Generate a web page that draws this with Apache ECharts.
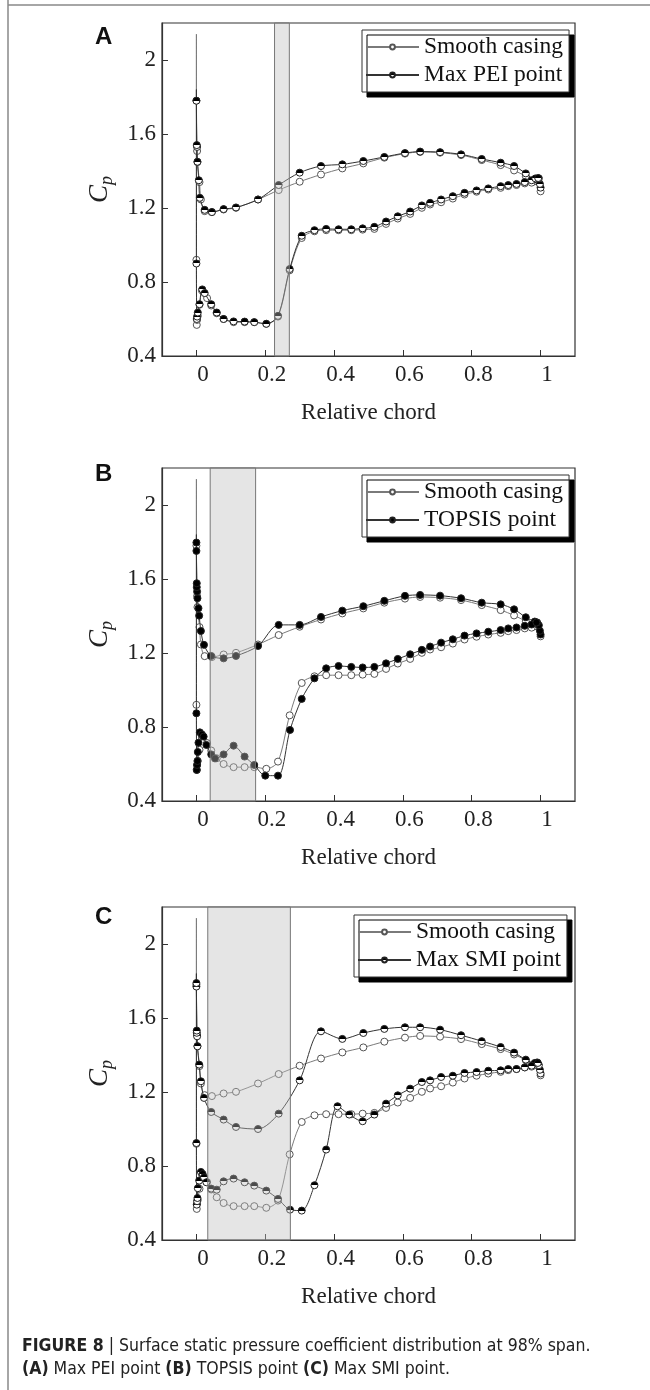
<!DOCTYPE html>
<html>
<head>
<meta charset="utf-8">
<script src="https://cdn.jsdelivr.net/npm/echarts@6/dist/echarts.min.js"></script>
<style>
  html, body { margin: 0; padding: 0; background: #fff; }
  #chart { width: 650px; height: 1390px; }
</style>
</head>
<body>
<div id="chart"></div>
<script>
// each curve runs: pressure side TE -> LE -> stagnation tip -> suction side -> TE
var smoothCasing = [
  [1.0, 1.29], [0.983, 1.345], [0.957, 1.372], [0.923, 1.403], [0.884, 1.432], [0.829, 1.459],
  [0.769, 1.486], [0.708, 1.499], [0.650, 1.503], [0.606, 1.494], [0.546, 1.472], [0.485, 1.441],
  [0.424, 1.414], [0.362, 1.381], [0.300, 1.342], [0.239, 1.297], [0.179, 1.246], [0.115, 1.201],
  [0.079, 1.192], [0.045, 1.178], [0.024, 1.183], [0.013, 1.246], [0.009, 1.34], [0.003, 1.448],
  [0.002, 1.508], [0.0, 1.78], [0.0, 2.14],
  [0.0, 0.92], [0.001, 0.568], [0.002, 0.595], [0.004, 0.617], [0.009, 0.677], [0.016, 0.754],
  [0.031, 0.713], [0.043, 0.673], [0.059, 0.631], [0.079, 0.60], [0.108, 0.583], [0.140, 0.583],
  [0.168, 0.583], [0.203, 0.574], [0.237, 0.613], [0.271, 0.863], [0.306, 1.038], [0.343, 1.074],
  [0.377, 1.08], [0.413, 1.08], [0.45, 1.08], [0.483, 1.083], [0.517, 1.087], [0.551, 1.114],
  [0.585, 1.143], [0.621, 1.168], [0.655, 1.201], [0.679, 1.219], [0.711, 1.231], [0.745, 1.251],
  [0.779, 1.273], [0.814, 1.288], [0.848, 1.30], [0.884, 1.309], [0.906, 1.318], [0.93, 1.324],
  [0.954, 1.333], [0.974, 1.337], [0.991, 1.354]
];
var maxPEI = [
  [1.0, 1.31], [0.998, 1.33], [0.995, 1.36], [0.983, 1.355], [0.957, 1.387], [0.923, 1.427],
  [0.884, 1.445], [0.829, 1.465], [0.769, 1.49], [0.708, 1.502], [0.650, 1.505], [0.606, 1.497],
  [0.546, 1.476], [0.485, 1.454], [0.424, 1.436], [0.362, 1.427], [0.300, 1.391], [0.239, 1.324],
  [0.179, 1.246], [0.115, 1.203], [0.079, 1.194], [0.045, 1.178], [0.024, 1.19], [0.010, 1.255],
  [0.007, 1.35], [0.003, 1.45], [0.002, 1.53], [0.001, 1.54], [0.0, 1.78], [0.0, 1.84],
  [0.0, 0.90], [0.001, 0.60], [0.002, 0.613], [0.004, 0.635], [0.009, 0.68], [0.017, 0.76],
  [0.024, 0.74], [0.043, 0.68], [0.059, 0.635], [0.079, 0.60], [0.108, 0.587], [0.140, 0.586],
  [0.168, 0.583], [0.203, 0.574], [0.237, 0.617], [0.271, 0.87], [0.306, 1.05], [0.343, 1.08],
  [0.377, 1.087], [0.413, 1.085], [0.45, 1.085], [0.483, 1.09], [0.517, 1.098], [0.551, 1.127],
  [0.585, 1.155], [0.621, 1.181], [0.655, 1.214], [0.679, 1.228], [0.711, 1.246], [0.745, 1.264],
  [0.779, 1.282], [0.814, 1.295], [0.848, 1.306], [0.884, 1.318], [0.906, 1.324], [0.93, 1.33],
  [0.954, 1.34], [0.974, 1.35], [0.985, 1.36], [0.993, 1.362]
];
var topsis = [
  [1.0, 1.30], [0.998, 1.32], [0.995, 1.35], [0.99, 1.365], [0.983, 1.37], [0.957, 1.393],
  [0.923, 1.436], [0.884, 1.463], [0.829, 1.472], [0.769, 1.496], [0.708, 1.51], [0.650, 1.514],
  [0.606, 1.509], [0.546, 1.482], [0.485, 1.453], [0.424, 1.429], [0.362, 1.395], [0.300, 1.352],
  [0.239, 1.352], [0.179, 1.238], [0.115, 1.184], [0.079, 1.171], [0.043, 1.184], [0.022, 1.244],
  [0.013, 1.319], [0.008, 1.402], [0.006, 1.442], [0.003, 1.496], [0.002, 1.532], [0.001, 1.556],
  [0.001, 1.577], [0.0, 1.752], [0.0, 1.797], [0.0, 1.84],
  [0.0, 0.874], [0.001, 0.568], [0.002, 0.595], [0.003, 0.616], [0.004, 0.665], [0.006, 0.715],
  [0.01, 0.771], [0.016, 0.76], [0.021, 0.748], [0.029, 0.703], [0.043, 0.652], [0.054, 0.630],
  [0.079, 0.652], [0.108, 0.699], [0.14, 0.64], [0.168, 0.595], [0.2, 0.537], [0.237, 0.537],
  [0.272, 0.784], [0.306, 0.952], [0.343, 1.063], [0.377, 1.117], [0.413, 1.13], [0.45, 1.125],
  [0.483, 1.122], [0.517, 1.125], [0.551, 1.144], [0.585, 1.168], [0.621, 1.193], [0.655, 1.217],
  [0.679, 1.235], [0.711, 1.256], [0.745, 1.274], [0.779, 1.294], [0.814, 1.306], [0.848, 1.315],
  [0.884, 1.324], [0.906, 1.333], [0.93, 1.338], [0.954, 1.347], [0.974, 1.354], [0.988, 1.365]
];
var maxSMI = [
  [1.0, 1.30], [0.998, 1.32], [0.995, 1.345], [0.99, 1.36], [0.983, 1.357], [0.957, 1.375],
  [0.923, 1.413], [0.884, 1.443], [0.829, 1.475], [0.769, 1.507], [0.708, 1.537], [0.650, 1.55],
  [0.606, 1.55], [0.546, 1.541], [0.485, 1.519], [0.424, 1.487], [0.362, 1.528], [0.300, 1.263],
  [0.239, 1.083], [0.179, 1.0], [0.115, 1.011], [0.079, 1.051], [0.043, 1.092], [0.022, 1.168],
  [0.013, 1.258], [0.008, 1.348], [0.003, 1.447], [0.002, 1.501], [0.001, 1.52], [0.001, 1.532],
  [0.0, 1.77], [0.0, 1.789], [0.0, 1.84],
  [0.0, 0.924], [0.001, 0.591], [0.002, 0.61], [0.003, 0.627], [0.004, 0.68], [0.008, 0.721],
  [0.013, 0.768], [0.018, 0.757], [0.022, 0.739], [0.029, 0.712], [0.043, 0.678], [0.059, 0.672],
  [0.079, 0.717], [0.108, 0.732], [0.14, 0.712], [0.168, 0.694], [0.203, 0.667], [0.237, 0.622],
  [0.272, 0.564], [0.306, 0.559], [0.343, 0.696], [0.377, 0.889], [0.41, 1.123], [0.444, 1.078],
  [0.483, 1.042], [0.517, 1.078], [0.551, 1.137], [0.585, 1.182], [0.621, 1.218], [0.655, 1.254],
  [0.679, 1.263], [0.711, 1.281], [0.745, 1.288], [0.779, 1.303], [0.814, 1.308], [0.848, 1.315],
  [0.884, 1.317], [0.906, 1.324], [0.93, 1.324], [0.954, 1.333], [0.974, 1.342], [0.992, 1.357]
];

var xTicks = [0, 0.2, 0.4, 0.6, 0.8, 1];
var yTicks = [0.4, 0.8, 1.2, 1.6, 2];
var panelLetters = ['A', 'B', 'C'];
var caseNames = ['Max PEI point', 'TOPSIS point', 'Max SMI point'];
var caseData = [maxPEI, topsis, maxSMI];
// shaded chord ranges (grooved region)
var bands = [[0.227, 0.27], [0.04, 0.172], [0.033, 0.273]];

var gridTops = [23, 468, 907];
var legendPos = [[362, 30], [362, 475], [354, 915]];
var letterTops = [25, 462, 905];

var serif = '"Liberation Serif", "Times New Roman", serif';

var halfFill = {
  type: 'linear', x: 0, y: 0, x2: 0, y2: 1,
  colorStops: [
    {offset: 0, color: '#000'}, {offset: 0.5, color: '#000'},
    {offset: 0.5, color: '#fff'}, {offset: 1, color: '#fff'}
  ]
};

// stagnation tip drawn as bare line
function toData(arr) {
  return arr.map(function (p) {
    return p[1] > 1.82 ? {value: p, symbol: 'none'} : p;
  });
}

var grids = [], xAxes = [], yAxes = [], series = [], legends = [], graphics = [];

for (var i = 0; i < 3; i++) {
  grids.push({
    left: 162, width: 413, top: gridTops[i], height: 333,
    show: true, borderColor: '#333', borderWidth: 1.2
  });
  xAxes.push({
    type: 'value', gridIndex: i, min: -0.1, max: 1.1,
    axisLine: {onZero: false, lineStyle: {color: '#333', width: 1.2}},
    axisTick: {inside: true, length: 6, customValues: xTicks, lineStyle: {color: '#333'}},
    axisLabel: {
      customValues: xTicks, margin: 7, padding: [0, 0, 0, 13],
      fontFamily: serif, fontSize: 23, color: '#222',
      formatter: function (v) { return String(v); }
    },
    splitLine: {show: false},
    name: 'Relative chord', nameLocation: 'middle', nameGap: 45,
    nameTextStyle: {fontFamily: serif, fontSize: 23, color: '#222'}
  });
  yAxes.push({
    type: 'value', gridIndex: i, min: 0.4, max: 2.2,
    axisLine: {onZero: false, lineStyle: {color: '#333', width: 1.2}},
    axisTick: {inside: true, length: 6, customValues: yTicks, lineStyle: {color: '#333'}},
    axisLabel: {
      customValues: yTicks, margin: 6,
      fontFamily: serif, fontSize: 23, color: '#222',
      formatter: function (v) { return String(+v.toFixed(1)); }
    },
    splitLine: {show: false},
    name: '{c|C}{p|p}', nameLocation: 'middle', nameGap: 46, nameRotate: 90,
    nameTextStyle: {
      rich: {
        c: {fontFamily: serif, fontStyle: 'italic', fontSize: 27, color: '#222'},
        p: {fontFamily: serif, fontStyle: 'italic', fontSize: 18, color: '#222', padding: [14, 0, 0, 0]}
      }
    }
  });

  series.push({
    name: 'Smooth casing', type: 'line', xAxisIndex: i, yAxisIndex: i,
    data: toData(smoothCasing), smooth: 0.3,
    symbol: 'circle', symbolSize: 7,
    lineStyle: {color: '#7a7a7a', width: 1},
    itemStyle: {color: '#fff', borderColor: '#555', borderWidth: 1},
    z: 2
  });
  series.push({
    name: caseNames[i], type: 'line', xAxisIndex: i, yAxisIndex: i,
    data: toData(caseData[i]), smooth: 0.3,
    symbol: 'circle', symbolSize: 7,
    lineStyle: {color: '#333', width: 1},
    itemStyle: {color: i === 1 ? '#000' : halfFill, borderColor: '#222', borderWidth: 1},
    z: 3
  });
  series.push({
    type: 'line', xAxisIndex: i, yAxisIndex: i, data: [], z: 10,
    markArea: {
      silent: true, z: 10,
      itemStyle: {color: 'rgba(190,190,190,0.4)', borderColor: '#777', borderWidth: 1},
      data: [[{xAxis: bands[i][0]}, {xAxis: bands[i][1]}]]
    }
  });

  legends.push({
    orient: 'vertical', left: legendPos[i][0], top: legendPos[i][1],
    data: ['Smooth casing', caseNames[i]],
    itemWidth: 53, itemHeight: 6, itemGap: 2, padding: [4, 6, 4, 3],
    backgroundColor: '#fff', borderColor: '#333', borderWidth: 1,
    shadowColor: '#000', shadowOffsetX: 5, shadowOffsetY: 5, shadowBlur: 0,
    selectedMode: false,
    textStyle: {fontFamily: serif, fontSize: 23.5, color: '#111', lineHeight: 26}
  });

  graphics.push({
    type: 'text', left: 95, top: letterTops[i],
    style: {text: panelLetters[i], font: 'bold 24px "Liberation Sans", Arial, sans-serif', fill: '#111'}
  });
}

// figure frame and caption
graphics.push({type: 'line', shape: {x1: 8, y1: 0, x2: 8, y2: 1390}, style: {stroke: '#888', lineWidth: 1.5}});
graphics.push({type: 'line', shape: {x1: 8, y1: 5, x2: 650, y2: 5}, style: {stroke: '#888', lineWidth: 1.5}});
var capFont = '"Liberation Sans Narrow", "DejaVu Sans Condensed", Arial, sans-serif';
graphics.push({
  type: 'text', left: 22, top: 1337,
  style: {
    text: '{b|FIGURE 8} | Surface static pressure coefficient distribution at 98% span.',
    fontFamily: capFont, fontSize: 17.5, fill: '#222',
    rich: {b: {fontFamily: capFont, fontSize: 17.5, fontWeight: 'bold', fill: '#222'}}
  }
});
graphics.push({
  type: 'text', left: 22, top: 1360,
  style: {
    text: '{b|(A)} Max PEI point {b|(B)} TOPSIS point {b|(C)} Max SMI point.',
    fontFamily: capFont, fontSize: 17.5, fill: '#222',
    rich: {b: {fontFamily: capFont, fontSize: 17.5, fontWeight: 'bold', fill: '#222'}}
  }
});

var chart = echarts.init(document.getElementById('chart'));
chart.setOption({
  animation: false,
  backgroundColor: '#fff',
  grid: grids,
  xAxis: xAxes,
  yAxis: yAxes,
  legend: legends,
  series: series,
  graphic: graphics
});
</script>
</body>
</html>
